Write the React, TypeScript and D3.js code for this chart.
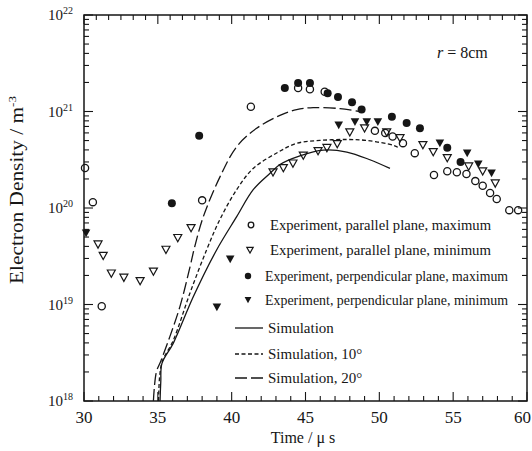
import React from "react";
import * as d3 from "d3";

type Pt = [number, number];

// Experimental data: [time (µs), electron density (m^-3)]
const parallelMax: Pt[] = [
  [30.07, 2.6e20], [30.6, 1.15e20], [31.2, 9.6e18], [38.0, 1.2e20], [41.3, 1.12e21],
  [44.5, 1.75e21], [45.3, 1.7e21], [46.3, 1.6e21], [49.7, 6.3e20], [50.4, 6.0e20],
  [50.9, 5.5e20], [51.6, 4.7e20], [52.4, 3.7e20], [53.7, 2.2e20], [54.6, 2.4e20],
  [55.25, 2.35e20], [55.9, 2.25e20], [56.5, 1.9e20], [57.0, 1.7e20], [57.5, 1.43e20],
  [57.95, 1.24e20], [58.8, 9.5e19], [59.4, 9.5e19],
];

const parallelMin: Pt[] = [
  [30.95, 4.2e19], [31.3, 3.2e19], [31.85, 2.1e19], [32.7, 1.9e19], [33.8, 1.75e19],
  [34.7, 2.2e19], [35.55, 3.7e19], [36.35, 4.9e19], [37.25, 6.2e19], [42.8, 2.35e20],
  [43.5, 2.6e20], [44.15, 2.9e20], [44.85, 3.5e20], [45.85, 3.9e20], [46.45, 4.2e20],
  [47.15, 4.6e20], [48.0, 6.1e20], [49.0, 6.7e20], [50.5, 6.1e20], [51.4, 5.3e20],
  [52.95, 4.5e20], [53.65, 3.8e20], [54.6, 3.3e20], [56.05, 2.7e20], [57.0, 2.4e20],
  [57.85, 1.8e20],
];

const perpMax: Pt[] = [
  [35.95, 1.12e20], [37.8, 5.6e20], [43.6, 1.75e21], [44.5, 1.97e21], [45.3, 1.97e21],
  [46.5, 1.55e21], [47.2, 1.41e21], [48.15, 1.25e21], [48.8, 1.05e21], [50.85, 8.8e20],
  [51.85, 7.6e20], [52.75, 6.7e20], [54.6, 4.2e20], [55.5, 3.0e20],
];

const perpMin: Pt[] = [
  [30.14, 5.5e19], [39.0, 9.4e18], [39.9, 2.95e19], [47.25, 7.2e20], [48.35, 7.8e20],
  [49.15, 7.8e20], [49.9, 7.8e20], [54.1, 4.7e20], [55.95, 3.7e20], [56.7, 2.85e20],
  [57.6, 2.3e20],
];

// Simulated curves: [time (µs), log10 density]
const simulation: Pt[] = [
  [35.15, 18.0], [35.2, 18.2], [35.28, 18.39], [36.05, 18.6], [37.4, 19.08],
  [38.98, 19.565], [40.34, 19.91], [41.46, 20.19], [42.6, 20.36], [43.27, 20.45],
  [44.62, 20.54], [46.2, 20.6], [47.8, 20.58], [49.36, 20.5], [50.72, 20.41],
];

const simulation10: Pt[] = [
  [35.05, 18.0], [35.12, 18.25], [35.3, 18.41], [36.05, 18.63], [37.18, 19.12],
  [38.3, 19.565], [39.2, 19.88], [40.34, 20.19], [41.46, 20.41], [43.05, 20.57],
  [44.4, 20.67], [45.98, 20.7], [47.8, 20.71], [49.14, 20.7], [50.94, 20.65],
  [51.25, 20.63],
];

const simulation20: Pt[] = [
  [34.7, 18.0], [34.9, 18.3], [35.22, 18.42], [35.82, 18.67], [36.5, 18.98],
  [37.18, 19.39], [37.5, 19.6], [38.08, 19.91], [39.2, 20.32], [40.34, 20.635],
  [41.69, 20.826], [43.27, 20.96], [44.4, 21.02], [45.52, 21.04], [47.33, 21.03],
  [48.69, 21.0],
];

const xTicks = [30, 35, 40, 45, 50, 55, 60];
const yExponents = [18, 19, 20, 21, 22];

const legendMarkers = [
  "Experiment, parallel plane, maximum",
  "Experiment, parallel plane, minimum",
  "Experiment, perpendicular plane, maximum",
  "Experiment, perpendicular plane, minimum",
];
const legendLines = ["Simulation", "Simulation, 10°", "Simulation, 20°"];

const INK = "#161616";
const FONT = "'Liberation Serif', 'Times New Roman', serif";

const triDown = (s: number) => `M${-s},${-s * 0.85}L${s},${-s * 0.85}L0,${s * 0.95}Z`;

export default function App() {
  const left = 84, right = 527, top = 15, bottom = 401;
  const x = d3.scaleLinear().domain([30, 60]).range([left, right]);
  const y = d3.scaleLog().domain([1e18, 1e22]).range([bottom, top]);

  const line = d3
    .line<Pt>()
    .x((d) => x(d[0]))
    .y((d) => y(Math.pow(10, d[1])))
    .curve(d3.curveCatmullRom.alpha(0.5));

  // log minor ticks
  const logTicks: { v: number; major: boolean }[] = [];
  for (let e = 18; e <= 22; e++) {
    logTicks.push({ v: Math.pow(10, e), major: true });
    if (e < 22) for (let m = 2; m <= 9; m++) logTicks.push({ v: m * Math.pow(10, e), major: false });
  }
  const bottomTicks = d3.range(30, 61, 1).map((t) => ({ t, major: t % 5 === 0 }));
  const topTicks = d3.range(0, 37).map((i) => ({ t: 30 + (i * 5) / 6, major: i % 6 === 0 }));

  const legendRowsY = [225, 250, 276, 300];
  const legendLineY = [328, 354, 378];

  return (
    <svg
      width={532}
      height={451}
      style={{ position: "fixed", left: 0, top: 0, background: "#fff" }}
      fontFamily={FONT}
    >
      <rect width={532} height={451} fill="#fff" />
      <defs>
        <clipPath id="plotClip">
          <rect x={left} y={top} width={right - left} height={bottom - top} />
        </clipPath>
      </defs>

      {/* frame */}
      <rect x={left} y={top} width={right - left} height={bottom - top} fill="none" stroke={INK} strokeWidth={1.5} />

      {/* y ticks, left and right */}
      {logTicks.map((d, i) => {
        const yy = y(d.v);
        const len = d.major ? 9 : 5;
        return (
          <g key={"yt" + i} stroke={INK} strokeWidth={1.1}>
            <line x1={left} x2={left + len} y1={yy} y2={yy} />
            <line x1={right} x2={right - len} y1={yy} y2={yy} />
          </g>
        );
      })}

      {/* x ticks */}
      {bottomTicks.map((d, i) => (
        <line key={"xb" + i} x1={x(d.t)} x2={x(d.t)} y1={bottom} y2={bottom - (d.major ? 9 : 5)} stroke={INK} strokeWidth={1.1} />
      ))}
      {topTicks.map((d, i) => (
        <line key={"xt" + i} x1={x(d.t)} x2={x(d.t)} y1={top} y2={top + (d.major ? 9 : 5)} stroke={INK} strokeWidth={1.1} />
      ))}

      {/* tick labels */}
      {xTicks.map((t) => {
        const last = t === 60;
        return (
          <text
            key={"xl" + t}
            x={last ? 531 : x(t)}
            y={423}
            textAnchor={last ? "end" : "middle"}
            fontSize={17}
            fill={INK}
          >
            {t}
          </text>
        );
      })}
      {yExponents.map((e) => (
        <text key={"yl" + e} x={73} y={y(Math.pow(10, e)) + 5} textAnchor="end" fontSize={15} fill={INK}>
          10
          <tspan dy={-6} fontSize={10}>
            {e}
          </tspan>
        </text>
      ))}

      {/* axis titles */}
      <text x={303} y={443} textAnchor="middle" fontSize={16} fill={INK}>
        Time /  μ s
      </text>
      <text
        transform="translate(23,190) rotate(-90)"
        textAnchor="middle"
        fontSize={18}
        fill={INK}
        textLength={188}
        lengthAdjust="spacingAndGlyphs"
      >
        Electron Density / m
        <tspan dy={-7} fontSize={11}>
          -3
        </tspan>
      </text>
      <text x={437} y={58} fontSize={16} fill={INK}>
        <tspan fontStyle="italic">r</tspan> = 8cm
      </text>

      {/* simulation curves */}
      <g clipPath="url(#plotClip)" fill="none" stroke={INK} strokeWidth={1.3}>
        <path d={line(simulation) || ""} />
        <path d={line(simulation10) || ""} strokeDasharray="4,2.5" />
        <path d={line(simulation20) || ""} strokeDasharray="12,4" />
      </g>

      {/* experiment markers */}
      <g>
        {parallelMax.map((d, i) => (
          <circle key={"pm" + i} cx={x(d[0])} cy={y(d[1])} r={3.6} fill="none" stroke={INK} strokeWidth={1.3} />
        ))}
        {parallelMin.map((d, i) => (
          <path key={"pn" + i} transform={`translate(${x(d[0])},${y(d[1])})`} d={triDown(4)} fill="none" stroke={INK} strokeWidth={1.2} />
        ))}
        {perpMax.map((d, i) => (
          <circle key={"qm" + i} cx={x(d[0])} cy={y(d[1])} r={4} fill={INK} />
        ))}
        {perpMin.map((d, i) => (
          <path key={"qn" + i} transform={`translate(${x(d[0])},${y(d[1])})`} d={triDown(4.3)} fill={INK} />
        ))}
      </g>

      {/* legend */}
      <g fontSize={15} fill={INK}>
        <circle cx={251} cy={legendRowsY[0]} r={2.8} fill="none" stroke={INK} strokeWidth={1.3} />
        <path transform={`translate(250,${legendRowsY[1]})`} d={triDown(3.2)} fill="none" stroke={INK} strokeWidth={1.2} />
        <circle cx={248} cy={legendRowsY[2]} r={3.2} fill={INK} />
        <path transform={`translate(248,${legendRowsY[3]})`} d={triDown(3.4)} fill={INK} />
        {legendMarkers.map((s, i) => (
          <text
            key={"lm" + i}
            x={i < 2 ? 270 : 265}
            y={legendRowsY[i] + 5}
            textLength={i < 2 ? 221 : 243}
            lengthAdjust="spacingAndGlyphs"
          >
            {s}
          </text>
        ))}
        <line x1={235} x2={263} y1={legendLineY[0]} y2={legendLineY[0]} stroke={INK} strokeWidth={1.3} />
        <line x1={235} x2={263} y1={legendLineY[1]} y2={legendLineY[1]} stroke={INK} strokeWidth={1.3} strokeDasharray="4,2.5" />
        <line x1={235} x2={263} y1={legendLineY[2]} y2={legendLineY[2]} stroke={INK} strokeWidth={1.3} strokeDasharray="12,4" />
        {legendLines.map((s, i) => (
          <text key={"ll" + i} x={268} y={legendLineY[i] + 5}>
            {s}
          </text>
        ))}
      </g>
    </svg>
  );
}
